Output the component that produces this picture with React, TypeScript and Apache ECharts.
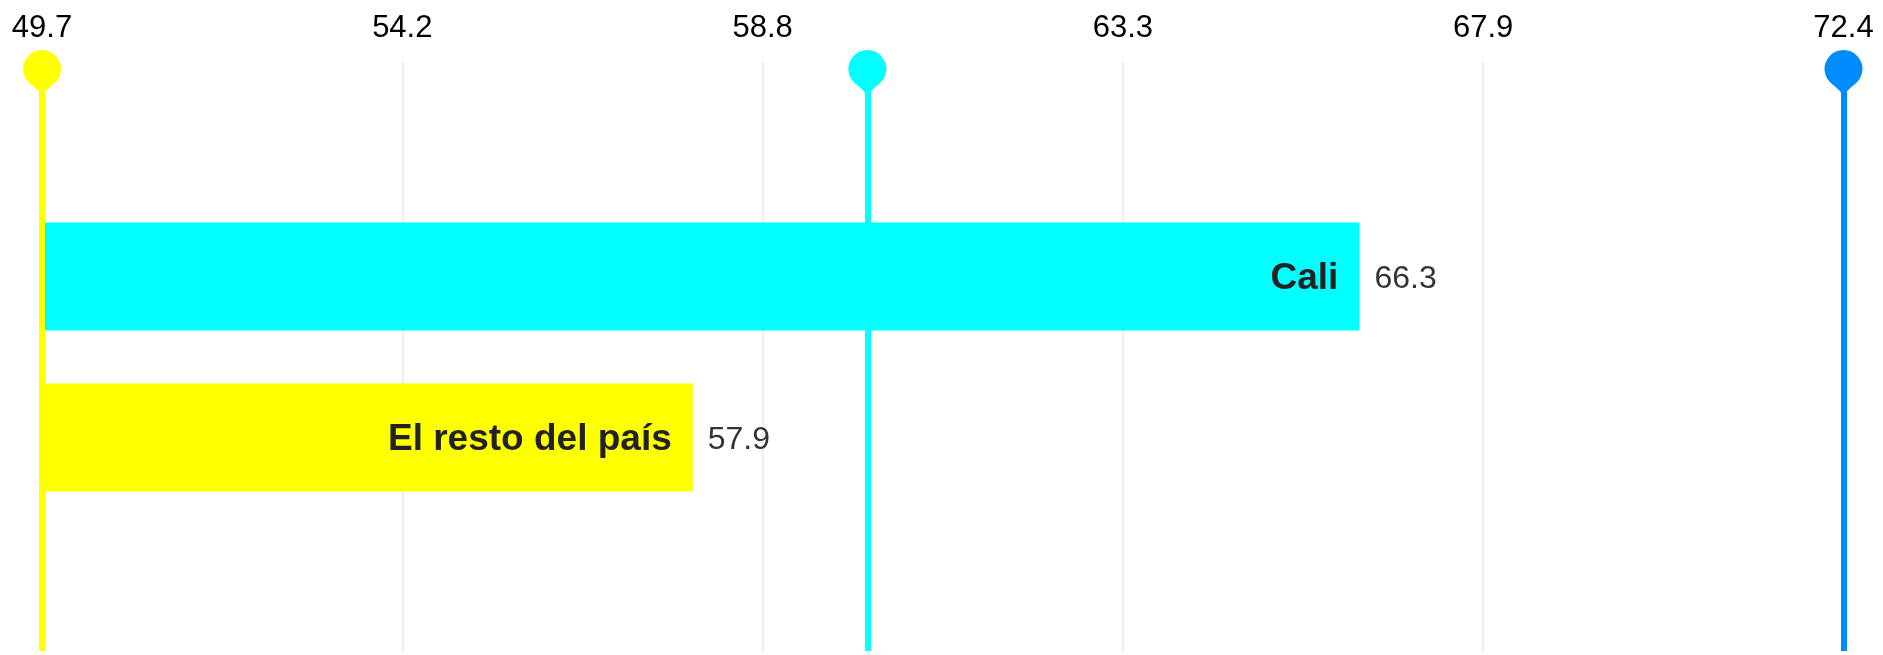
import React, { useEffect, useRef } from 'react';
import * as echarts from 'echarts';

const categories = ['Cali', 'El resto del país'];
const values = [66.3, 57.9];
const barColors = ['#00ffff', '#ffff00'];
const tickLabels = ['49.7', '54.2', '58.8', '63.3', '67.9', '72.4'];
const axisMin = 49.7;
const axisMax = 72.4;
const markerValues = [49.7, 60.1, 72.4];
const markerColors = ['#ffff00', '#00ffff', '#008cff'];

const PIN_PATH =
  'path://M7.4 34 A19 19 0 1 1 30.6 34 Q22.5 40 19 46 Q15.5 40 7.4 34 Z';

export default function App() {
  const ref = useRef<HTMLDivElement>(null);
  useEffect(() => {
    const chart = echarts.init(ref.current!, null, { renderer: 'svg' });
    const font = '"Liberation Sans", Arial, Helvetica, sans-serif';
    chart.setOption({
      animation: false,
      textStyle: { fontFamily: font },
      grid: [
        { left: 42, right: 39.5, top: 196, height: 322 },
        { left: 42, right: 39.5, top: 62, bottom: 4 },
      ],
      xAxis: [
        { gridIndex: 0, type: 'value', min: axisMin, max: axisMax, show: false },
        {
          gridIndex: 1,
          type: 'category',
          data: tickLabels,
          boundaryGap: false,
          position: 'top',
          axisLine: { show: false },
          axisTick: { show: false },
          axisLabel: { interval: 0, fontSize: 31, color: '#000', fontFamily: font, margin: 20 },
          splitLine: { show: true, interval: 0, lineStyle: { color: '#eeeeee', width: 2 } },
        },
        { gridIndex: 1, type: 'value', min: axisMin, max: axisMax, show: false },
      ],
      yAxis: [
        { gridIndex: 0, type: 'category', data: categories, inverse: true, show: false },
        { gridIndex: 1, type: 'value', min: 0, max: 1, show: false },
      ],
      series: [
        {
          type: 'bar',
          xAxisIndex: 0,
          yAxisIndex: 0,
          barWidth: 108,
          barGap: '-100%',
          z: 2,
          data: values.map((v, i) => ({ value: v, itemStyle: { color: barColors[i] } })),
          label: {
            show: true,
            position: 'insideRight',
            distance: 21,
            formatter: '{b}',
            fontSize: 37,
            fontWeight: 'bold',
            color: '#222',
            fontFamily: font,
          },
        },
        {
          type: 'bar',
          xAxisIndex: 0,
          yAxisIndex: 0,
          barWidth: 108,
          barGap: '-100%',
          z: 1,
          silent: true,
          data: values,
          itemStyle: { color: 'rgba(0,0,0,0)' },
          label: {
            show: true,
            position: 'right',
            distance: 15,
            fontSize: 32,
            color: '#333',
            fontFamily: font,
          },
        },
        {
          type: 'scatter',
          xAxisIndex: 2,
          yAxisIndex: 1,
          clip: false,
          z: 5,
          symbol: PIN_PATH,
          symbolSize: [38, 46],
          symbolOffset: [0, 11],
          itemStyle: { opacity: 1 },
          data: markerValues.map((v, i) => ({
            value: [v, 1],
            itemStyle: { color: markerColors[i], opacity: 1 },
          })),
          markLine: {
            silent: true,
            symbol: 'none',
            label: { show: false },
            data: markerValues.map((v, i) => ({
              xAxis: v,
              lineStyle: { color: markerColors[i], width: 6, type: 'solid', opacity: 1 },
            })),
          },
        },
      ],
    });
    return () => chart.dispose();
  }, []);
  return <div ref={ref} style={{ position: 'fixed', left: 0, top: 0, width: 1883, height: 655 }} />;
}
